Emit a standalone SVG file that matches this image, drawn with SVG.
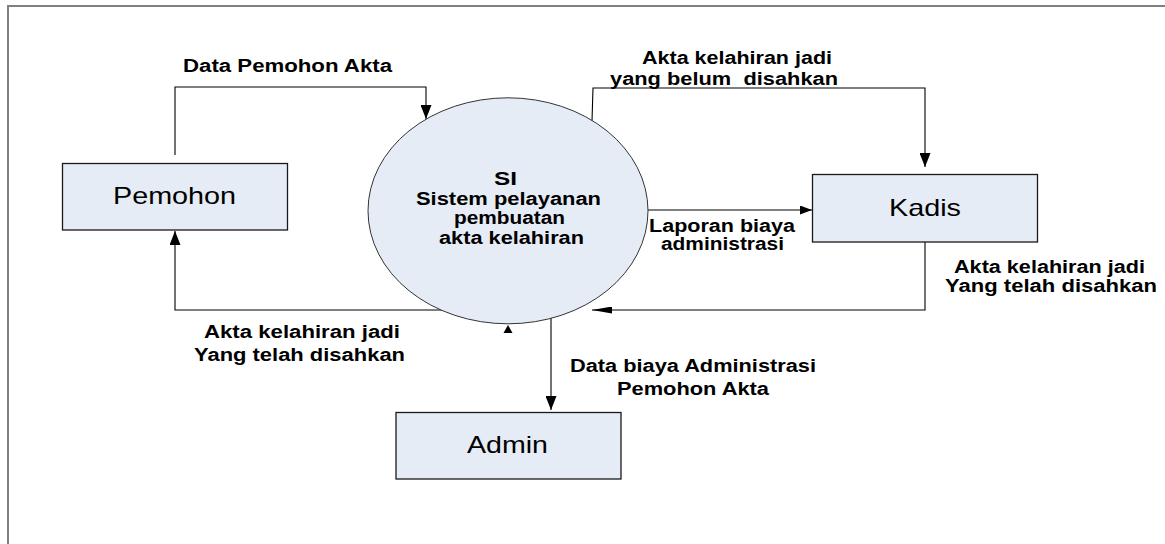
<svg xmlns="http://www.w3.org/2000/svg" width="1165" height="544" viewBox="0 0 1165 544">
<style>
.frame{fill:none;stroke:#808080;stroke-width:2}
.box{fill:#e6ecf6;stroke:#1a1a1a;stroke-width:1.3}
.proc{fill:#e6ecf6;stroke:#333;stroke-width:1}
.conn{fill:none;stroke:#000;stroke-width:1.1}
.lbl{font-family:"Liberation Sans",Arial,sans-serif;font-size:18px;font-weight:bold;fill:#000}
.name{font-family:"Liberation Sans",Arial,sans-serif;font-size:24px;fill:#000}
</style>
<defs>
<marker id="av" markerUnits="userSpaceOnUse" viewBox="0 0 14 11" refX="14" refY="5.5" markerWidth="14" markerHeight="11" orient="auto"><path d="M0,0 L14,5.5 L0,11 z" fill="#000"/></marker>
<marker id="ah" markerUnits="userSpaceOnUse" viewBox="0 0 12 9" refX="12" refY="4.5" markerWidth="12" markerHeight="9" orient="auto"><path d="M0,0 L12,4.5 L0,9 z" fill="#000"/></marker>
<marker id="ah2" markerUnits="userSpaceOnUse" viewBox="0 0 20 7" refX="20" refY="3.5" markerWidth="20" markerHeight="7" orient="auto"><path d="M0,0 L20,3.5 L0,7 z" fill="#000"/></marker>
</defs>
<rect width="1165" height="544" fill="#fff"/>
<path class="frame" d="M8,544 L8,6 L1165,6"/>

<g id="connectors">
<polyline class="conn" points="175,155 175,87 426,87 426,119" marker-end="url(#av)"/>
<polyline class="conn" points="592,121 593,88 925,88 925,167" marker-end="url(#av)"/>
<polyline class="conn" points="647,210 812,210" marker-end="url(#ah)"/>
<polyline class="conn" points="925,242 925,310 592,310" marker-end="url(#ah2)"/>
<polyline class="conn" points="442,310 175,310 175,231" marker-end="url(#av)"/>
<polyline class="conn" points="551,318 551,410" marker-end="url(#av)"/>
<polygon points="508,325 503.5,333 512.5,333" fill="#000"/>
</g>

<g id="labels">
<text class="lbl" x="183" y="72" textLength="209" lengthAdjust="spacingAndGlyphs">Data Pemohon Akta</text>
<text class="lbl" x="642" y="64" textLength="190" lengthAdjust="spacingAndGlyphs">Akta kelahiran jadi</text>
<text class="lbl" x="610" y="85" textLength="228" lengthAdjust="spacingAndGlyphs" xml:space="preserve">yang belum  disahkan</text>
<text class="lbl" x="649" y="232" textLength="146" lengthAdjust="spacingAndGlyphs">Laporan biaya</text>
<text class="lbl" x="661" y="250" textLength="123" lengthAdjust="spacingAndGlyphs">administrasi</text>
<text class="lbl" x="954" y="273" textLength="191" lengthAdjust="spacingAndGlyphs">Akta kelahiran jadi</text>
<text class="lbl" x="945" y="292" textLength="212" lengthAdjust="spacingAndGlyphs">Yang telah disahkan</text>
<text class="lbl" x="204" y="338" textLength="196" lengthAdjust="spacingAndGlyphs">Akta kelahiran jadi</text>
<text class="lbl" x="194" y="361" textLength="211" lengthAdjust="spacingAndGlyphs">Yang telah disahkan</text>
<text class="lbl" x="570" y="372" textLength="246" lengthAdjust="spacingAndGlyphs">Data biaya Administrasi</text>
<text class="lbl" x="617" y="395" textLength="152" lengthAdjust="spacingAndGlyphs">Pemohon Akta</text>
</g>

<g id="node-pemohon">
<rect class="box" x="62.5" y="163.5" width="225" height="66.5"/>
<text class="name" x="113" y="204" textLength="123" lengthAdjust="spacingAndGlyphs">Pemohon</text>
</g>

<g id="node-si">
<ellipse class="proc" cx="508" cy="210.8" rx="140" ry="113"/>
<text class="lbl" x="494" y="185" textLength="23" lengthAdjust="spacingAndGlyphs">SI</text>
<text class="lbl" x="416" y="205" textLength="185" lengthAdjust="spacingAndGlyphs">Sistem pelayanan</text>
<text class="lbl" x="454" y="224" textLength="111" lengthAdjust="spacingAndGlyphs">pembuatan</text>
<text class="lbl" x="439" y="244" textLength="145" lengthAdjust="spacingAndGlyphs">akta kelahiran</text>
</g>

<g id="node-kadis">
<rect class="box" x="812.5" y="174.5" width="225" height="67.5"/>
<text class="name" x="889" y="216" textLength="72" lengthAdjust="spacingAndGlyphs">Kadis</text>
</g>

<g id="node-admin">
<rect class="box" x="396" y="412.5" width="225" height="66.5"/>
<text class="name" x="467" y="453" textLength="81" lengthAdjust="spacingAndGlyphs">Admin</text>
</g>
</svg>
